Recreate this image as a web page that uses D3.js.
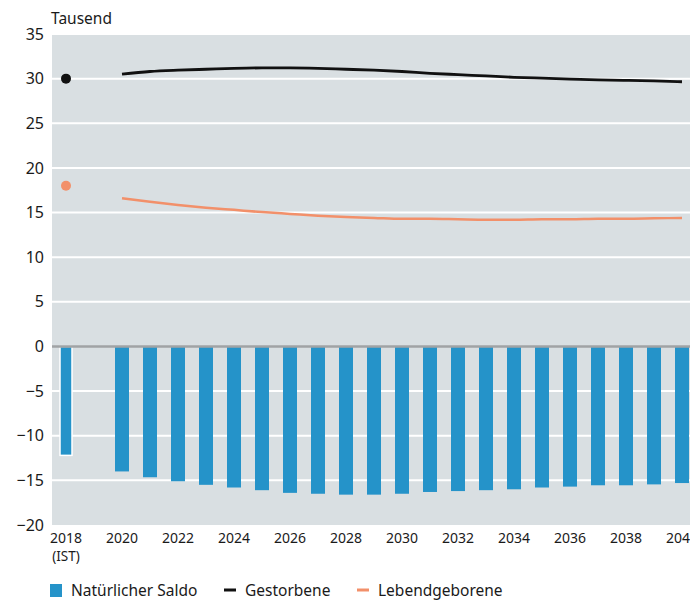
<!DOCTYPE html>
<html>
<head>
<meta charset="utf-8">
<script src="https://cdn.jsdelivr.net/npm/d3@7"></script>
<style>
  body { margin: 0; background: #fff; }
  svg { display: block; font-family: "Noto Sans", sans-serif; }
</style>
</head>
<body>
<div id="chart"></div>
<script>
const years = d3.range(2018, 2041);
const tickYears = [2018, 2020, 2022, 2024, 2026, 2028, 2030, 2032, 2034, 2036, 2038, 2040];
const yTicks = [-20, -15, -10, -5, 0, 5, 10, 15, 20, 25, 30, 35];

// Natürlicher Saldo (Tausend), 2018 = Ist-Wert
const saldo2018 = -12.2;
const saldoYears = d3.range(2020, 2041);
const saldo = [-14.0, -14.65, -15.1, -15.5, -15.8, -16.1, -16.4, -16.5, -16.6, -16.6, -16.5,
               -16.3, -16.2, -16.1, -16.0, -15.8, -15.7, -15.55, -15.55, -15.45, -15.3];
const gestorbene2018 = 30.0;
const gestorbene = [30.5, 30.8, 30.95, 31.05, 31.15, 31.2, 31.2, 31.15, 31.05, 30.95, 30.8,
                    30.6, 30.45, 30.3, 30.15, 30.05, 29.95, 29.85, 29.8, 29.75, 29.65];
const lebend2018 = 18.0;
const lebendgeborene = [16.6, 16.2, 15.85, 15.55, 15.3, 15.05, 14.85, 14.65, 14.5, 14.4, 14.3,
                        14.3, 14.25, 14.2, 14.2, 14.25, 14.25, 14.3, 14.3, 14.35, 14.4];

const colors = { bar: "#2593c9", dead: "#111111", born: "#f2906a", bg: "#d9dfe2", zero: "#a0a3a5" };

const width = 690, height = 602;
const margin = { top: 34, left: 52, bottom: 77 };
const plotW = 23 * 28;

const svg = d3.select("#chart").append("svg")
  .attr("width", width).attr("height", height);

const x = d3.scaleBand().domain(years).range([margin.left, margin.left + plotW])
  .paddingInner(0.5).paddingOuter(0.25);
const y = d3.scaleLinear().domain([-20, 35]).range([height - margin.bottom, margin.top]);
const cx = d => x(d) + x.bandwidth() / 2;

svg.append("rect")
  .attr("x", margin.left).attr("y", y(35))
  .attr("width", plotW).attr("height", y(-20) - y(35))
  .attr("fill", colors.bg);

// grid
svg.append("g").selectAll("line")
  .data(yTicks.filter(t => t !== -20 && t !== 0))
  .join("line")
  .attr("x1", margin.left).attr("x2", margin.left + plotW)
  .attr("y1", d => y(d)).attr("y2", d => y(d))
  .attr("stroke", "#fff").attr("stroke-width", 2);

// y axis labels
const yAxis = svg.append("g")
  .attr("transform", `translate(${margin.left},0)`)
  .call(d3.axisLeft(y).tickValues(yTicks).tickSize(0).tickPadding(8)
    .tickFormat(d => d < 0 ? "\u2212" + Math.abs(d) : d));
yAxis.select(".domain").remove();
yAxis.selectAll("text").attr("font-size", 16).attr("fill", "#1a1a1a")
  .attr("font-family", '"Noto Sans", sans-serif');

svg.append("text")
  .attr("x", margin.left - 1).attr("y", 24)
  .attr("font-size", 15.5).attr("fill", "#1a1a1a")
  .text("Tausend");

// bars
svg.append("rect")
  .attr("x", x(2018) + 1).attr("y", y(0))
  .attr("width", x.bandwidth() - 2).attr("height", y(saldo2018) - y(0))
  .attr("fill", colors.bar).attr("stroke", "#fff").attr("stroke-width", 1.5);

svg.append("g").selectAll("rect")
  .data(saldoYears.map((yr, i) => ({ yr, v: saldo[i] })))
  .join("rect")
  .attr("x", d => x(d.yr)).attr("y", y(0))
  .attr("width", x.bandwidth()).attr("height", d => y(d.v) - y(0))
  .attr("fill", colors.bar);

// zero line
svg.append("line")
  .attr("x1", margin.left).attr("x2", margin.left + plotW)
  .attr("y1", y(0)).attr("y2", y(0))
  .attr("stroke", colors.zero).attr("stroke-width", 2.5);

// lines
const line = d3.line().x(d => cx(d.yr)).y(d => y(d.v)).curve(d3.curveMonotoneX);
svg.append("path")
  .datum(saldoYears.map((yr, i) => ({ yr, v: lebendgeborene[i] })))
  .attr("d", line).attr("fill", "none")
  .attr("stroke", colors.born).attr("stroke-width", 2.5);
svg.append("path")
  .datum(saldoYears.map((yr, i) => ({ yr, v: gestorbene[i] })))
  .attr("d", line).attr("fill", "none")
  .attr("stroke", colors.dead).attr("stroke-width", 2.8);

svg.append("circle").attr("cx", cx(2018)).attr("cy", y(gestorbene2018)).attr("r", 5).attr("fill", colors.dead);
svg.append("circle").attr("cx", cx(2018)).attr("cy", y(lebend2018)).attr("r", 5).attr("fill", colors.born);

// x labels
svg.append("g").selectAll("text")
  .data(tickYears)
  .join("text")
  .attr("x", d => cx(d))
  .attr("y", y(-20) + 18)
  .attr("text-anchor", "middle")
  .attr("font-size", 14).attr("fill", "#1a1a1a")
  .text(d => d);
svg.append("text")
  .attr("x", cx(2018)).attr("y", y(-20) + 36)
  .attr("text-anchor", "middle").attr("font-size", 13.5).attr("fill", "#1a1a1a")
  .text("(IST)");

// legend
const legend = [
  { label: "Natürlicher Saldo", type: "box", color: colors.bar, x: 50 },
  { label: "Gestorbene", type: "line", color: colors.dead, x: 224 },
  { label: "Lebendgeborene", type: "line", color: colors.born, x: 357 }
];
const lg = svg.append("g").selectAll("g").data(legend).join("g")
  .attr("transform", d => `translate(${d.x},590)`);
lg.filter(d => d.type === "box").append("rect")
  .attr("x", 0).attr("y", -6).attr("width", 12).attr("height", 13).attr("fill", d => d.color);
lg.filter(d => d.type === "line").append("line")
  .attr("x1", 0).attr("x2", 12).attr("y1", 0).attr("y2", 0)
  .attr("stroke", d => d.color).attr("stroke-width", 3);
lg.append("text")
  .attr("x", 21).attr("y", 6)
  .attr("font-size", 15.5).attr("fill", "#1a1a1a")
  .text(d => d.label);
</script>
</body>
</html>
